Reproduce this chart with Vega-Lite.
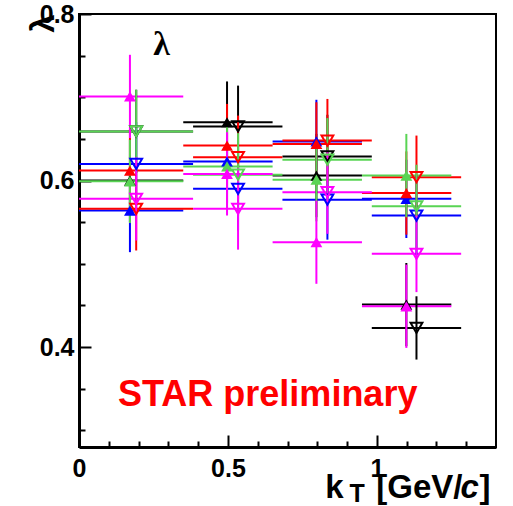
{
  "$schema": "https://vega.github.io/schema/vega-lite/v6.json",
  "width": 417,
  "height": 433,
  "autosize": {"type": "none"},
  "padding": {"left": 79, "top": 14, "right": 17, "bottom": 59},
  "background": "white",
  "config": {
    "view": {"stroke": "#000000", "strokeWidth": 2},
    "axis": {
      "grid": false, "tickColor": "#000000", "tickWidth": 2, "domainColor": "#000000", "domainWidth": 3,
      "labelFont": "Liberation Sans", "labelFontWeight": "bold", "labelFontSize": 25, "labelColor": "#000000",
      "labelFlush": false, "labelOverlap": false, "labelBound": false
    }
  },
  "resolve": {"axis": {"x": "independent", "y": "independent"}},
  "datasets": {
    "pts": [
      {"s":"black","t":"F","x":0.171,"xlo":0,"xhi":0.35,"y":0.600,"ylo":0.550,"yhi":0.650},
      {"s":"black","t":"F","x":0.497,"xlo":0.35,"xhi":0.65,"y":0.670,"ylo":0.621,"yhi":0.719},
      {"s":"black","t":"F","x":0.797,"xlo":0.65,"xhi":0.95,"y":0.606,"ylo":0.556,"yhi":0.656},
      {"s":"black","t":"F","x":1.099,"xlo":0.95,"xhi":1.25,"y":0.451,"ylo":0.401,"yhi":0.501},
      {"s":"black","t":"O","x":0.192,"xlo":0,"xhi":0.383,"y":0.659,"ylo":0.609,"yhi":0.709},
      {"s":"black","t":"O","x":0.534,"xlo":0.383,"xhi":0.683,"y":0.665,"ylo":0.616,"yhi":0.714},
      {"s":"black","t":"O","x":0.834,"xlo":0.683,"xhi":0.983,"y":0.629,"ylo":0.579,"yhi":0.679},
      {"s":"black","t":"O","x":1.133,"xlo":0.983,"xhi":1.283,"y":0.423,"ylo":0.385,"yhi":0.461},
      {"s":"blue","t":"F","x":0.171,"xlo":0,"xhi":0.35,"y":0.564,"ylo":0.514,"yhi":0.614},
      {"s":"blue","t":"F","x":0.497,"xlo":0.35,"xhi":0.65,"y":0.623,"ylo":0.573,"yhi":0.673},
      {"s":"blue","t":"F","x":0.797,"xlo":0.65,"xhi":0.95,"y":0.647,"ylo":0.597,"yhi":0.697},
      {"s":"blue","t":"F","x":1.099,"xlo":0.95,"xhi":1.25,"y":0.578,"ylo":0.531,"yhi":0.625},
      {"s":"blue","t":"O","x":0.192,"xlo":0,"xhi":0.383,"y":0.620,"ylo":0.570,"yhi":0.670},
      {"s":"blue","t":"O","x":0.534,"xlo":0.383,"xhi":0.683,"y":0.590,"ylo":0.540,"yhi":0.640},
      {"s":"blue","t":"O","x":0.834,"xlo":0.683,"xhi":0.983,"y":0.577,"ylo":0.529,"yhi":0.625},
      {"s":"blue","t":"O","x":1.133,"xlo":0.983,"xhi":1.283,"y":0.558,"ylo":0.510,"yhi":0.606},
      {"s":"red","t":"F","x":0.171,"xlo":0,"xhi":0.35,"y":0.612,"ylo":0.562,"yhi":0.662},
      {"s":"red","t":"F","x":0.497,"xlo":0.35,"xhi":0.65,"y":0.642,"ylo":0.592,"yhi":0.692},
      {"s":"red","t":"F","x":0.797,"xlo":0.65,"xhi":0.95,"y":0.644,"ylo":0.594,"yhi":0.694},
      {"s":"red","t":"F","x":1.099,"xlo":0.95,"xhi":1.25,"y":0.585,"ylo":0.535,"yhi":0.635},
      {"s":"red","t":"O","x":0.192,"xlo":0,"xhi":0.383,"y":0.566,"ylo":0.516,"yhi":0.616},
      {"s":"red","t":"O","x":0.534,"xlo":0.383,"xhi":0.683,"y":0.628,"ylo":0.578,"yhi":0.678},
      {"s":"red","t":"O","x":0.834,"xlo":0.683,"xhi":0.983,"y":0.648,"ylo":0.598,"yhi":0.698},
      {"s":"red","t":"O","x":1.133,"xlo":0.983,"xhi":1.283,"y":0.604,"ylo":0.554,"yhi":0.654},
      {"s":"green","t":"F","x":0.171,"xlo":0,"xhi":0.35,"y":0.599,"ylo":0.549,"yhi":0.649},
      {"s":"green","t":"F","x":0.497,"xlo":0.35,"xhi":0.65,"y":0.617,"ylo":0.567,"yhi":0.667},
      {"s":"green","t":"F","x":0.797,"xlo":0.65,"xhi":0.95,"y":0.601,"ylo":0.551,"yhi":0.651},
      {"s":"green","t":"F","x":1.099,"xlo":0.95,"xhi":1.25,"y":0.606,"ylo":0.556,"yhi":0.656},
      {"s":"green","t":"O","x":0.192,"xlo":0,"xhi":0.383,"y":0.659,"ylo":0.609,"yhi":0.709},
      {"s":"green","t":"O","x":0.534,"xlo":0.383,"xhi":0.683,"y":0.607,"ylo":0.557,"yhi":0.657},
      {"s":"green","t":"O","x":0.834,"xlo":0.683,"xhi":0.983,"y":0.625,"ylo":0.575,"yhi":0.675},
      {"s":"green","t":"O","x":1.133,"xlo":0.983,"xhi":1.283,"y":0.569,"ylo":0.519,"yhi":0.619},
      {"s":"magenta","t":"F","x":0.171,"xlo":0,"xhi":0.35,"y":0.701,"ylo":0.651,"yhi":0.751},
      {"s":"magenta","t":"F","x":0.497,"xlo":0.35,"xhi":0.65,"y":0.608,"ylo":0.558,"yhi":0.658},
      {"s":"magenta","t":"F","x":0.797,"xlo":0.65,"xhi":0.95,"y":0.526,"ylo":0.476,"yhi":0.576},
      {"s":"magenta","t":"F","x":1.099,"xlo":0.95,"xhi":1.25,"y":0.449,"ylo":0.399,"yhi":0.499},
      {"s":"magenta","t":"O","x":0.192,"xlo":0,"xhi":0.383,"y":0.578,"ylo":0.528,"yhi":0.628},
      {"s":"magenta","t":"O","x":0.534,"xlo":0.383,"xhi":0.683,"y":0.566,"ylo":0.517,"yhi":0.615},
      {"s":"magenta","t":"O","x":0.834,"xlo":0.683,"xhi":0.983,"y":0.586,"ylo":0.536,"yhi":0.636},
      {"s":"magenta","t":"O","x":1.133,"xlo":0.983,"xhi":1.283,"y":0.512,"ylo":0.466,"yhi":0.558}
    ]
  },
  "layer": [
    {
      "data": {"name": "pts"},
      "mark": {"type": "rule", "strokeWidth": 2},
      "encoding": {
        "x": {
          "field": "xlo", "type": "quantitative",
          "scale": {"domain": [0, 1.4], "nice": false, "zero": false},
          "axis": {
            "title": null, "orient": "bottom",
            "values": [0, 0.5, 1],
            "labelExpr": "datum.value == 0 ? '0' : datum.value == 1 ? '1' : '0.5'",
            "tickSize": -12,
            "labelPadding": 21
          }
        },
        "x2": {"field": "xhi"},
        "y": {
          "field": "y", "type": "quantitative",
          "scale": {"domain": [0.28, 0.8], "nice": false, "zero": false},
          "axis": {
            "orient": "left",
            "title": "λ",
            "titleFont": "Liberation Sans", "titleFontWeight": "bold", "titleFontSize": 33, "titleColor": "#000000",
            "titleAngle": 270, "titleAlign": "right", "titleBaseline": "alphabetic", "titleX": -26, "titleY": 0,
            "values": [0.4, 0.6, 0.8],
            "format": ".1f",
            "tickSize": -12,
            "labelPadding": 17
          }
        },
        "color": {
          "field": "s", "type": "nominal", "legend": null,
          "scale": {"domain": ["black","blue","red","green","magenta"], "range": ["#000000","#0000ff","#ff0000","#59d454","#ff00ff"]}
        }
      }
    },
    {
      "data": {"name": "pts"},
      "mark": {"type": "rule", "strokeWidth": 2},
      "encoding": {
        "x": {
          "field": "x", "type": "quantitative",
          "axis": {"title": null, "orient": "bottom", "values": [0.1,0.2,0.3,0.4,0.6,0.7,0.8,0.9,1.1,1.2,1.3], "labels": false, "domain": false, "tickSize": -6}
        },
        "y": {
          "field": "ylo", "type": "quantitative",
          "axis": {"title": null, "orient": "left", "values": [0.3,0.35,0.45,0.5,0.55,0.65,0.7,0.75], "labels": false, "domain": false, "tickSize": -6}
        },
        "y2": {"field": "yhi"},
        "color": {"field": "s", "type": "nominal", "legend": null}
      }
    },
    {
      "data": {"name": "pts"},
      "transform": [{"filter": "datum.t == 'F'"}],
      "mark": {"type": "point", "shape": "triangle-up", "filled": true, "size": 140, "opacity": 1},
      "encoding": {
        "x": {"field": "x", "type": "quantitative", "axis": null},
        "y": {"field": "y", "type": "quantitative", "axis": null},
        "color": {"field": "s", "type": "nominal", "legend": null}
      }
    },
    {
      "data": {"name": "pts"},
      "transform": [{"filter": "datum.t == 'O'"}],
      "mark": {"type": "point", "shape": "triangle-down", "filled": false, "size": 140, "strokeWidth": 2, "opacity": 1},
      "encoding": {
        "x": {"field": "x", "type": "quantitative", "axis": null},
        "y": {"field": "y", "type": "quantitative", "axis": null},
        "color": {"field": "s", "type": "nominal", "legend": null}
      }
    },
    {
      "data": {"values": [{"label": "STAR preliminary"}]},
      "mark": {"type": "text", "align": "left", "baseline": "alphabetic", "font": "Liberation Sans", "fontWeight": "bold", "fontSize": 36, "color": "#ff0000"},
      "encoding": {"x": {"datum": 0.131, "axis": null}, "y": {"datum": 0.3287, "axis": null}, "text": {"field": "label"}}
    },
    {
      "data": {"values": [{"label": "λ"}]},
      "mark": {"type": "text", "align": "left", "baseline": "alphabetic", "font": "Liberation Serif", "fontWeight": "bold", "fontSize": 34, "color": "#000000"},
      "encoding": {"x": {"datum": 0.249, "axis": null}, "y": {"datum": 0.751, "axis": null}, "text": {"field": "label"}}
    },
    {
      "data": {"values": [{"label": "k"}]},
      "mark": {"type": "text", "align": "left", "baseline": "alphabetic", "font": "Liberation Sans", "fontWeight": "bold", "fontSize": 33, "color": "#000000"},
      "encoding": {"x": {"datum": 0.827, "axis": null}, "y": {"datum": 0.2183, "axis": null}, "text": {"field": "label"}}
    },
    {
      "data": {"values": [{"label": "T"}]},
      "mark": {"type": "text", "align": "left", "baseline": "alphabetic", "font": "Liberation Sans", "fontWeight": "bold", "fontSize": 25, "color": "#000000"},
      "encoding": {"x": {"datum": 0.908, "axis": null}, "y": {"datum": 0.2134, "axis": null}, "text": {"field": "label"}}
    },
    {
      "data": {"values": [{"label": "[GeV/"}]},
      "mark": {"type": "text", "align": "left", "baseline": "alphabetic", "font": "Liberation Sans", "fontWeight": "bold", "fontSize": 33, "color": "#000000"},
      "encoding": {"x": {"datum": 0.998, "axis": null}, "y": {"datum": 0.2183, "axis": null}, "text": {"field": "label"}}
    },
    {
      "data": {"values": [{"label": "c"}]},
      "mark": {"type": "text", "align": "left", "baseline": "alphabetic", "font": "Liberation Sans", "fontWeight": "bold", "fontStyle": "italic", "fontSize": 33, "color": "#000000"},
      "encoding": {"x": {"datum": 1.281, "axis": null}, "y": {"datum": 0.2183, "axis": null}, "text": {"field": "label"}}
    },
    {
      "data": {"values": [{"label": "]"}]},
      "mark": {"type": "text", "align": "left", "baseline": "alphabetic", "font": "Liberation Sans", "fontWeight": "bold", "fontSize": 33, "color": "#000000"},
      "encoding": {"x": {"datum": 1.345, "axis": null}, "y": {"datum": 0.2183, "axis": null}, "text": {"field": "label"}}
    }
  ]
}
